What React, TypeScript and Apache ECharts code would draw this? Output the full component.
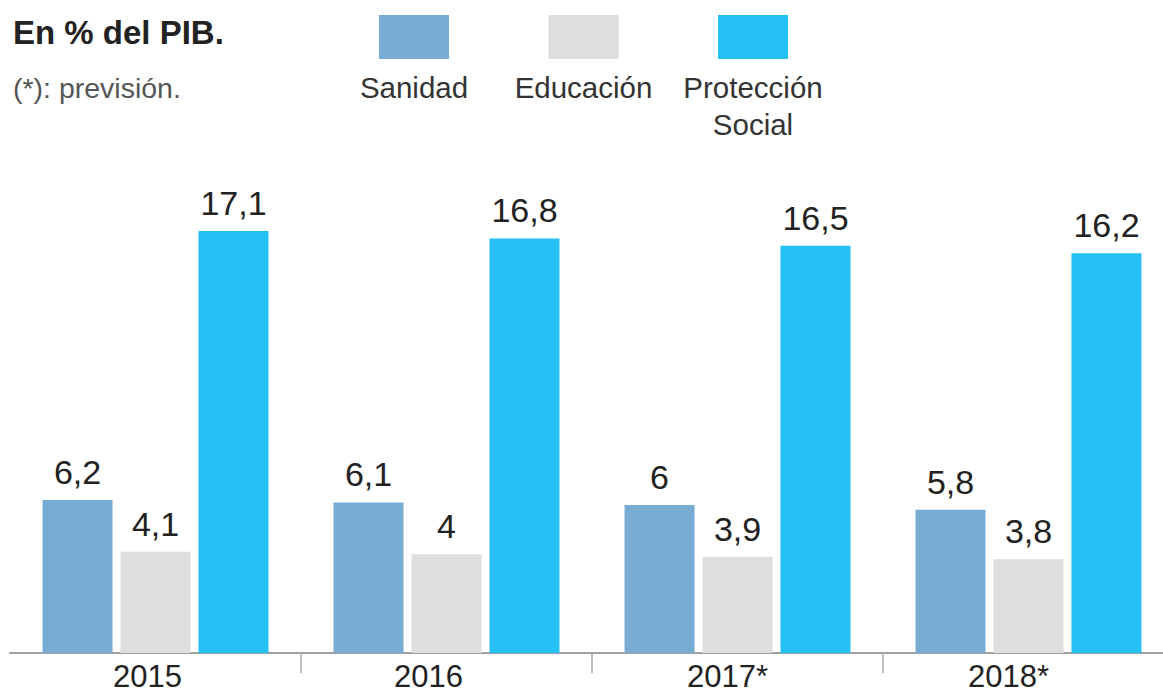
import React, { useEffect, useRef } from "react";
import * as echarts from "echarts";

const categories = ["2015", "2016", "2017*", "2018*"];
const seriesNames = ["Sanidad", "Educación", "Protección\nSocial"];
const sanidad = [6.2, 6.1, 6, 5.8];
const educacion = [4.1, 4, 3.9, 3.8];
const proteccion = [17.1, 16.8, 16.5, 16.2];
const colors = ["#78acd3", "#dedede", "#25c0f4"];
const titleText = "En % del PIB.";
const noteText = "(*): previsión.";
// leftward shift (px) of each year label, as in the reference
const labelShift = [8, 18, 10, 20];

export default function App() {
  const ref = useRef<HTMLDivElement>(null);
  useEffect(() => {
    if (!ref.current) return;
    const chart = echarts.init(ref.current, null, { renderer: "svg" });
    const values = [sanidad, educacion, proteccion];
    const fontFamily = "Arial, 'Liberation Sans', sans-serif";
    const legendGraphics: any[] = [];
    seriesNames.forEach((name, i) => {
      const cx = 414 + i * 169.5;
      legendGraphics.push({
        type: "rect",
        shape: { x: cx - 35, y: 15, width: 70, height: 44 },
        style: { fill: colors[i] },
      });
      legendGraphics.push({
        type: "text",
        x: cx,
        y: 69,
        style: {
          text: name,
          fill: "#333",
          font: `29.5px ${fontFamily}`,
          align: "center",
          verticalAlign: "top",
          lineHeight: 37,
        },
      });
    });
    chart.setOption({
      animation: false,
      grid: { left: 10, top: 159.4, width: 1164, height: 493.6, containLabel: false },
      xAxis: {
        type: "category",
        data: categories.map((c, i) => ({
          value: c,
          textStyle: { padding: [0, labelShift[i] * 2, 0, 0] },
        })),
        axisLine: { lineStyle: { color: "#a0a0a0", width: 2 } },
        axisTick: {
          show: true,
          length: 20,
          lineStyle: { color: "#a8a8a8", width: 1.5 },
          interval: (i: number) => i > 0,
        },
        axisLabel: {
          color: "#222",
          fontSize: 31,
          lineHeight: 26,
          fontFamily,
          margin: 10,
        },
      },
      yAxis: {
        type: "value",
        min: 0,
        max: 20,
        show: false,
        splitLine: { show: false },
      },
      graphic: [
        {
          type: "text",
          x: 13,
          y: 32,
          style: {
            text: titleText,
            fill: "#222",
            font: `bold 33px ${fontFamily}`,
            verticalAlign: "middle",
          },
        },
        {
          type: "text",
          x: 13,
          y: 88,
          style: {
            text: noteText,
            fill: "#555",
            font: `28.5px ${fontFamily}`,
            verticalAlign: "middle",
          },
        },
        ...legendGraphics,
      ],
      series: values.map((v, i) => ({
        type: "bar",
        name: seriesNames[i],
        data: v,
        barWidth: 70,
        barGap: "11.4%",
        itemStyle: { color: colors[i] },
        label: {
          show: true,
          position: "top",
          distance: 11,
          color: "#222",
          fontSize: 34,
          fontFamily,
          formatter: (p: any) => String(p.value).replace(".", ","),
        },
      })),
    });
    return () => chart.dispose();
  }, []);
  return (
    <div
      ref={ref}
      style={{ position: "fixed", left: 0, top: 0, width: 1180, height: 695, background: "#fff" }}
    />
  );
}
